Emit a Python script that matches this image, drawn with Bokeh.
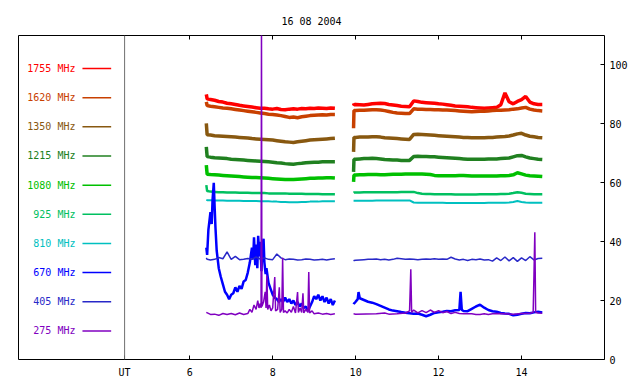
from bokeh.plotting import figure
from bokeh.models import Range1d, LinearAxis, FixedTicker, Span, CustomJSTickFormatter
from bokeh.core.properties import value
from bokeh.embed import file_html
from bokeh.resources import INLINE

TITLE = "16 08 2004"
UT_X = 4.43
X_TICKS = [6, 8, 10, 12, 14]
Y_TICKS = [0, 20, 40, 60, 80, 100]

LABELS = ["1755 MHz", "1620 MHz", "1350 MHz", "1215 MHz", "1080 MHz",
          "925 MHz", "810 MHz", "670 MHz", "405 MHz", "275 MHz"]
COLORS = ["#ff0000", "#c84000", "#885810", "#208020", "#00c000",
          "#00c060", "#00c0c0", "#0000ff", "#2828c8", "#8000c0"]

# common time grids (UT hours)
T1 = [6.40, 6.42, 6.5, 6.6, 6.7, 6.8, 6.9, 7.0, 7.1, 7.2, 7.3, 7.4, 7.5, 7.6, 7.7, 7.8,
      7.9, 8.0, 8.1, 8.2, 8.3, 8.4, 8.5, 8.6, 8.7, 8.8, 8.9, 9.0, 9.1, 9.2, 9.3, 9.4, 9.5]
T2 = [9.95, 9.96, 10.0, 10.1, 10.2, 10.3, 10.4, 10.5, 10.6, 10.7, 10.8, 10.9,
      11.0, 11.1, 11.2, 11.3, 11.4, 11.5, 11.6, 11.7, 11.8, 11.9,
      12.0, 12.1, 12.2, 12.3, 12.4, 12.5, 12.6, 12.7, 12.8, 12.9,
      13.0, 13.1, 13.2, 13.3, 13.4, 13.5, 13.6, 13.7, 13.8, 13.9,
      14.0, 14.1, 14.2, 14.3, 14.4, 14.5]

F1755_1 = [90.0, 88.5, 88.3, 88.0, 87.6, 87.4, 87.0, 86.8, 86.6, 86.3, 86.1, 85.9, 85.7, 85.5, 85.3, 85.3,
           85.1, 85.0, 85.2, 84.9, 84.8, 85.0, 85.1, 85.0, 85.2, 85.1, 85.3, 85.2, 85.4, 85.3, 85.2, 85.4, 85.3]
F1755_2 = [87.0, 86.5, 86.6, 86.5, 86.4, 86.6, 86.8, 86.9, 87.0, 86.9, 86.6, 86.4,
           86.2, 86.0, 85.9, 85.8, 87.8, 87.6, 87.3, 87.2, 87.1, 87.0,
           86.8, 86.7, 86.5, 86.3, 86.1, 86.0, 85.9, 85.8, 85.6, 85.5,
           85.4, 85.3, 85.4, 85.5, 85.6, 86.5, 90.5, 87.5, 86.8, 87.6,
           88.2, 89.3, 87.4, 86.8, 86.6, 86.6]

F1620_1 = [87.5, 86.2, 86.0, 85.8, 85.6, 85.4, 85.3, 85.1, 84.9, 84.7, 84.5, 84.3, 84.1, 83.9, 83.7, 83.5,
           83.3, 83.2, 83.0, 82.8, 82.5, 82.2, 82.3, 82.1, 82.4, 82.6, 82.8, 82.9, 83.0, 83.1, 83.0, 83.2, 83.2]
F1620_2 = [78.5, 84.5, 84.5, 84.6, 84.6, 84.7, 84.8, 84.8, 84.7, 84.5, 84.2, 83.9,
           83.7, 83.6, 83.5, 83.5, 85.1, 85.0, 85.0, 84.9, 84.9, 84.8,
           84.8, 84.7, 84.7, 84.6, 84.5, 84.4, 84.3, 84.2, 84.1, 84.2,
           84.3, 84.3, 84.4, 84.5, 84.6, 84.6, 84.7, 84.8, 85.0, 85.1,
           85.4, 85.6, 85.0, 84.7, 84.5, 84.4]

F1350_1 = [80.2, 76.3, 76.2, 76.0, 75.9, 75.8, 75.7, 75.6, 75.5, 75.4, 75.3, 75.2, 75.0, 74.9, 74.8, 74.7,
           74.6, 74.5, 74.3, 74.1, 73.9, 73.8, 73.7, 73.9, 74.1, 74.3, 74.5, 74.6, 74.7, 74.8, 74.9, 75.0, 75.1]
F1350_2 = [70.5, 75.4, 75.4, 75.5, 75.5, 75.5, 75.6, 75.6, 75.5, 75.3, 75.2, 75.1,
           75.0, 74.9, 74.8, 74.7, 76.4, 76.5, 76.4, 76.3, 76.2, 76.1,
           76.0, 75.9, 75.8, 75.7, 75.6, 75.5, 75.4, 75.4, 75.3, 75.3,
           75.3, 75.3, 75.4, 75.4, 75.5, 75.6, 75.7, 75.9, 76.2, 76.6,
           76.8, 76.2, 75.8, 75.6, 75.4, 75.3]

F1215_1 = [72.2, 68.9, 68.7, 68.5, 68.4, 68.3, 68.2, 68.0, 67.9, 67.8, 67.7, 67.6, 67.5, 67.4, 67.3, 67.2,
           67.1, 67.0, 66.8, 66.7, 66.5, 66.4, 66.3, 66.5, 66.6, 66.8, 66.9, 67.0, 67.0, 67.1, 67.1, 67.1, 67.1]
F1215_2 = [63.7, 68.0, 68.0, 68.1, 68.2, 68.2, 68.3, 68.2, 68.1, 67.9, 67.8, 67.7,
           67.7, 67.6, 67.6, 67.6, 68.9, 69.0, 68.9, 68.9, 68.8, 68.8,
           68.7, 68.6, 68.5, 68.4, 68.3, 68.2, 68.1, 68.0, 68.0, 68.0,
           68.0, 68.0, 68.1, 68.1, 68.1, 68.2, 68.3, 68.4, 68.8, 69.2,
           69.3, 68.8, 68.4, 68.2, 68.0, 67.9]

F1080_1 = [66.0, 62.9, 62.8, 62.7, 62.6, 62.5, 62.4, 62.3, 62.2, 62.1, 62.0, 61.9, 61.8, 61.8, 61.7, 61.6,
           61.5, 61.4, 61.3, 61.2, 61.1, 61.1, 61.1, 61.2, 61.3, 61.4, 61.5, 61.5, 61.6, 61.6, 61.7, 61.7, 61.6]
F1080_2 = [60.3, 62.6, 62.6, 62.7, 62.7, 62.8, 62.8, 62.8, 62.7, 62.7, 62.8, 62.9,
           62.9, 62.9, 63.0, 63.0, 63.0, 63.0, 63.0, 62.9, 62.8, 62.5,
           62.4, 62.4, 62.4, 62.4, 62.4, 62.5, 62.5, 62.4, 62.3, 62.3,
           62.3, 62.3, 62.3, 62.3, 62.3, 62.4, 62.4, 62.5, 62.7, 63.4,
           63.0, 62.6, 62.4, 62.3, 62.2, 62.1]

F925_1 = [59.2, 57.2, 57.0, 56.9, 56.8, 56.8, 56.7, 56.7, 56.7, 56.6, 56.6, 56.6, 56.5, 56.5, 56.5, 56.5,
          56.4, 56.4, 56.4, 56.4, 56.4, 56.3, 56.3, 56.3, 56.3, 56.2, 56.2, 56.2, 56.2, 56.1, 56.1, 56.1, 56.1]
F925_2 = [56.6, 56.7, 56.7, 56.7, 56.8, 56.8, 56.8, 56.8, 56.8, 56.8, 56.8, 56.8,
          56.8, 56.9, 56.9, 56.9, 56.9, 56.5, 56.3, 56.2, 56.2, 56.1,
          56.1, 56.1, 56.1, 56.1, 56.0, 56.0, 56.0, 56.0, 56.0, 56.0,
          56.1, 56.1, 56.1, 56.1, 56.1, 56.2, 56.2, 56.3, 56.5, 56.8,
          56.6, 56.3, 56.2, 56.1, 56.1, 56.1]

F810_1 = [54.2, 54.1, 54.1, 54.0, 54.0, 54.0, 53.9, 53.9, 53.9, 53.9, 53.8, 53.8, 53.8, 53.8, 53.7, 53.7,
          53.7, 53.6, 53.6, 53.5, 53.5, 53.4, 53.4, 53.4, 53.5, 53.5, 53.6, 53.6, 53.6, 53.7, 53.7, 53.7, 53.7]
F810_2 = [53.9, 53.9, 53.9, 53.9, 53.9, 53.9, 53.9, 54.0, 54.0, 54.0, 54.0, 54.0,
          54.0, 54.0, 54.0, 54.0, 53.3, 53.2, 53.2, 53.2, 53.2, 53.2,
          53.2, 53.2, 53.1, 53.1, 53.1, 53.1, 53.1, 53.1, 53.1, 53.1,
          53.1, 53.1, 53.2, 53.2, 53.2, 53.2, 53.2, 53.3, 53.5, 53.8,
          53.5, 53.3, 53.2, 53.2, 53.2, 53.2]

F405_1 = [34.5, 34.0, 33.8, 34.0, 34.6, 34.2, 36.5, 34.0, 35.0, 33.9, 34.0, 34.3, 34.0, 34.8, 34.1, 34.5,
          34.0, 33.9, 35.8, 34.5, 33.9, 34.1, 34.0, 33.8, 33.9, 34.1, 34.0, 33.8, 33.9, 34.0, 33.8, 34.0, 34.2]
F405_2 = [33.5, 33.6, 33.7, 33.8, 33.9, 34.0, 34.0, 34.1, 33.9, 34.0, 33.8, 34.0,
          34.4, 34.2, 34.0, 34.1, 34.0, 33.9, 34.0, 34.1, 34.0, 34.2,
          34.0, 34.1, 34.0, 34.7, 34.1, 33.8, 34.0, 33.6, 34.0, 33.9,
          34.1, 33.8, 33.9, 33.4, 34.5, 33.6, 34.8, 33.5, 34.6, 33.3,
          34.5, 33.6, 34.9, 33.8, 34.3, 34.4]

# 670 MHz (own finer time samples)
T670_1 = [6.40, 6.42, 6.45, 6.50, 6.53, 6.55, 6.58, 6.60, 6.62, 6.65,
          6.70, 6.75, 6.80, 6.85, 6.90, 6.95, 7.00, 7.05, 7.10, 7.15, 7.20, 7.25, 7.30, 7.35, 7.40, 7.45, 7.50,
          7.53, 7.55, 7.58, 7.60, 7.63, 7.65, 7.68, 7.70, 7.73, 7.75, 7.78, 7.80, 7.83, 7.85,
          7.90, 7.95, 8.00, 8.05, 8.10, 8.15, 8.20, 8.25, 8.30, 8.35, 8.40, 8.45, 8.50, 8.55, 8.60, 8.65,
          8.70, 8.75, 8.80, 8.85, 8.90, 8.95, 9.00, 9.05, 9.10, 9.15, 9.20, 9.25, 9.30, 9.35, 9.40, 9.45, 9.50]
F670_1 = [38.0, 35.5, 44.0, 50.0, 46.0, 54.0, 60.0, 52.0, 45.0, 37.0,
          31.0, 28.0, 25.5, 23.0, 22.0, 20.5, 22.0, 22.5, 24.5, 23.0, 25.0, 24.0, 26.5, 27.0, 29.5, 33.0, 38.0,
          34.0, 41.5, 32.0, 39.0, 31.0, 42.0, 35.0, 40.0, 30.0, 38.0, 41.0, 33.0, 29.0, 31.0,
          26.0, 24.0, 22.0, 21.0, 20.5, 19.5, 20.5, 19.5, 21.0, 19.5, 20.5, 19.0, 20.0, 18.5, 19.5, 18.0,
          19.0, 17.5, 18.0, 16.5, 18.0, 19.5, 21.5, 20.5, 22.0, 20.0, 21.5, 19.5, 21.0, 19.0, 20.5, 18.5, 20.0]
T670_2 = [9.95, 9.96, 10.0, 10.05, 10.07, 10.1, 10.2, 10.3, 10.4, 10.5, 10.6, 10.7, 10.8, 10.9,
          11.0, 11.1, 11.2, 11.3, 11.4, 11.5, 11.6, 11.7, 11.8, 11.9,
          12.0, 12.1, 12.2, 12.3, 12.4, 12.5, 12.53, 12.56, 12.6, 12.7, 12.8, 12.9,
          13.0, 13.1, 13.2, 13.3, 13.4, 13.5, 13.6, 13.7, 13.8, 13.9,
          14.0, 14.1, 14.2, 14.3, 14.4, 14.5]
F670_2 = [18.8, 19.0, 19.6, 20.5, 22.9, 20.8, 20.2, 19.6, 19.3, 18.8, 18.2, 17.6, 17.0, 16.6,
          16.4, 16.1, 15.9, 15.7, 15.5, 15.6, 15.2, 14.7, 15.2, 15.8,
          16.0, 16.2, 16.5, 16.4, 16.7, 16.8, 23.0, 16.8, 16.5, 16.4, 17.2, 18.0,
          18.6, 17.6, 16.8, 16.4, 16.2, 15.8, 15.6, 15.5, 15.0, 15.2,
          15.5, 15.8, 15.7, 16.0, 16.2, 16.0]

# 275 MHz (own time samples, spiky)
T275_1 = [6.40, 6.5, 6.6, 6.7, 6.8, 6.9, 7.0, 7.1, 7.2, 7.3, 7.4, 7.45, 7.5, 7.55, 7.6, 7.64, 7.67,
          7.70, 7.72, 7.73, 7.74, 7.78, 7.82, 7.84, 7.86, 7.88, 7.92, 7.96, 8.00, 8.05, 8.07,
          8.12, 8.16, 8.18, 8.22, 8.24, 8.26, 8.30, 8.35, 8.40, 8.45, 8.50, 8.55, 8.60, 8.62,
          8.66, 8.70, 8.73, 8.75, 8.80, 8.85, 8.87, 8.89, 8.95, 9.0, 9.1, 9.2, 9.3, 9.4, 9.5]
F275_1 = [16.0, 15.3, 15.4, 15.0, 15.6, 15.3, 15.6, 15.2, 15.8, 15.3, 15.6, 17.0, 16.0, 18.5, 17.0, 20.0, 17.5,
          19.0, 17.5, 115.0, 18.0, 19.5, 23.0, 17.5, 28.5, 17.0, 18.5, 16.5, 17.5, 28.0, 16.5,
          17.0, 24.5, 16.0, 17.0, 34.5, 16.0, 16.5, 15.8, 17.0, 16.0, 18.0, 15.8, 22.9, 16.0,
          17.5, 16.0, 22.5, 15.8, 17.0, 16.0, 29.7, 15.8, 16.5, 15.5, 15.8, 15.4, 15.6, 15.3, 15.5]
T275_2 = [9.95, 10.0, 10.5, 10.7, 10.8, 11.0, 11.2, 11.30, 11.33, 11.35, 11.4, 11.5, 11.6, 11.7,
          11.8, 11.9, 12.0, 12.1, 12.2, 12.3, 12.4, 12.5, 12.6, 12.8, 12.9, 13.0, 13.1, 13.2,
          13.3, 13.4, 13.6, 13.8, 14.0, 14.2, 14.28, 14.30, 14.32, 14.34, 14.4, 14.5]
F275_2 = [15.5, 15.4, 15.5, 15.8, 15.4, 15.5, 15.8, 16.5, 30.6, 16.0, 16.8, 15.8, 16.6, 15.9,
          16.8, 16.0, 16.6, 15.9, 16.3, 15.6, 16.0, 15.6, 15.5, 15.5, 15.3, 15.3, 15.5, 15.3,
          15.5, 15.6, 15.5, 15.4, 15.6, 15.7, 16.0, 29.0, 43.2, 16.0, 15.8, 15.7]

SERIES = [
    (T1, F1755_1, T2, F1755_2, 3.5),
    (T1, F1620_1, T2, F1620_2, 3.5),
    (T1, F1350_1, T2, F1350_2, 3.5),
    (T1, F1215_1, T2, F1215_2, 3.5),
    (T1, F1080_1, T2, F1080_2, 3.5),
    (T1, F925_1, T2, F925_2, 2.5),
    (T1, F810_1, T2, F810_2, 2),
    (T670_1, F670_1, T670_2, F670_2, 2.5),
    (T1, F405_1, T2, F405_2, 1.5),
    (T275_1, F275_1, T275_2, F275_2, 1.5),
]

FONT = "DejaVu Sans Mono"

p = figure(width=632, height=384, x_range=Range1d(1.872, 16.0), y_range=Range1d(0, 110),
           output_backend="svg", toolbar_location=None, y_axis_location="right",
           min_border_left=18, min_border_right=28, min_border_top=35, min_border_bottom=25)
p.background_fill_color = "white"
p.border_fill_color = "white"
p.outline_line_color = "black"
p.outline_line_width = 1
p.xgrid.visible = False
p.ygrid.visible = False

p.title.text = TITLE
p.title.align = "center"
p.title.text_font = FONT
p.title.text_font_size = "10px"
p.title.text_font_style = "normal"
p.title.text_color = "black"
p.title.standoff = 18

xa = p.xaxis[0]
xa.ticker = FixedTicker(ticks=[UT_X] + X_TICKS)
xa.major_label_overrides = {UT_X: "UT"}
xa.axis_line_color = None
xa.major_tick_in = 4
xa.major_tick_out = 0
xa.minor_tick_line_color = None
xa.major_label_standoff = 7
xa.major_label_text_font = FONT
xa.major_label_text_font_size = "10px"
xa.major_label_text_color = "black"

ya = p.yaxis[0]
ya.ticker = FixedTicker(ticks=Y_TICKS)
ya.axis_line_color = None
ya.major_tick_in = 4
ya.major_tick_out = 0
ya.minor_tick_line_color = None
ya.major_label_standoff = 5
ya.major_label_text_font = FONT
ya.major_label_text_font_size = "10px"
ya.major_label_text_color = "black"

top = LinearAxis(ticker=FixedTicker(ticks=X_TICKS), axis_line_color=None,
                 major_tick_in=4, major_tick_out=0, minor_tick_line_color=None,
                 formatter=CustomJSTickFormatter(code="return ''"),
                 major_label_standoff=0)
p.add_layout(top, "above")

p.add_layout(Span(location=UT_X, dimension="height", line_color="#707070", line_width=1))

for (ta, va, tb, vb, lw), col in zip(SERIES, COLORS):
    assert len(ta) == len(va), (len(ta), len(va), col)
    assert len(tb) == len(vb), (len(tb), len(vb), col)
    p.line(ta, va, line_color=col, line_width=lw)
    p.line(tb, vb, line_color=col, line_width=lw)

# legend drawn in the left part of the frame
leg_y = [98.8 - 9.9 * i for i in range(len(LABELS))]
p.text(x=[3.245] * len(LABELS), y=leg_y, text=LABELS, text_color=COLORS,
       text_align="right", text_baseline="middle",
       text_font=value(FONT), text_font_size="10px")
p.segment(x0=[3.414] * len(LABELS), y0=leg_y, x1=[4.106] * len(LABELS), y1=leg_y,
          line_color=COLORS, line_width=1.5)

open("out.html", "w").write(file_html(p, INLINE))
